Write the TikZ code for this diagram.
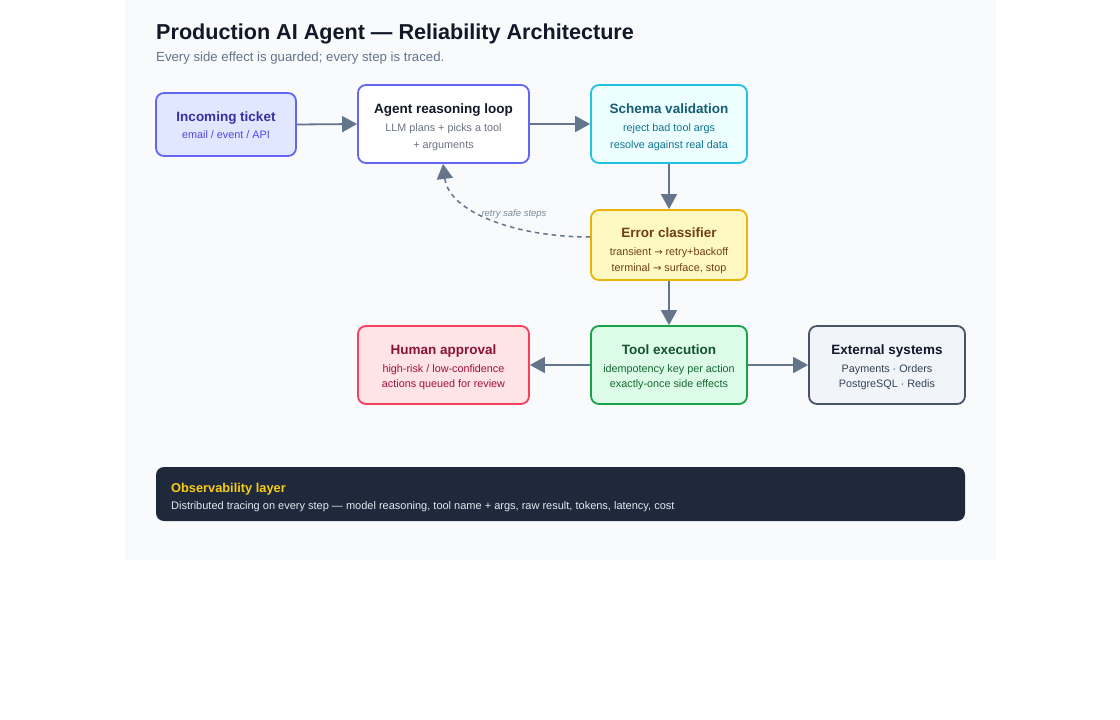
\documentclass[tikz,border=0pt]{standalone}
\usepackage{fontspec}
\setmainfont{Liberation Sans}
\newfontfamily\arrowfont{DejaVu Sans}
\usetikzlibrary{arrows.meta}
\definecolor{panel}{HTML}{F8FAFC}
\definecolor{arr}{HTML}{64748B}
\definecolor{inFill}{HTML}{E0E7FF}\definecolor{inDraw}{HTML}{6366F1}\definecolor{inTitle}{HTML}{3730A3}\definecolor{inSub}{HTML}{4F46E5}
\definecolor{agTitle}{HTML}{111827}\definecolor{agSub}{HTML}{6B7280}
\definecolor{cyFill}{HTML}{ECFEFF}\definecolor{cyDraw}{HTML}{22C3DC}\definecolor{cyTitle}{HTML}{155E75}\definecolor{cySub}{HTML}{0E7490}
\definecolor{yeFill}{HTML}{FEF9C3}\definecolor{yeDraw}{HTML}{EAB308}\definecolor{yeTitle}{HTML}{713F12}\definecolor{yeSub}{HTML}{713F12}
\definecolor{roFill}{HTML}{FFE4E6}\definecolor{roDraw}{HTML}{F43F5E}\definecolor{roTitle}{HTML}{881337}\definecolor{roSub}{HTML}{9F1239}
\definecolor{grFill}{HTML}{DCFCE7}\definecolor{grDraw}{HTML}{16A34A}\definecolor{grTitle}{HTML}{14532D}\definecolor{grSub}{HTML}{166534}
\definecolor{slFill}{HTML}{F1F5F9}\definecolor{slDraw}{HTML}{475569}\definecolor{slTitle}{HTML}{0F172A}\definecolor{slSub}{HTML}{334155}
\definecolor{dkFill}{HTML}{1E293B}\definecolor{dkTitle}{HTML}{FACC15}\definecolor{dkSub}{HTML}{E2E8F0}
\newcommand{\rarr}{{\arrowfont\fontsize{10}{13}\selectfont →}}
\begin{document}
\begin{tikzpicture}[x=1pt,y=-1pt,
  boxstyle/.style={draw, line width=1.8pt, rounded corners=8pt, inner sep=0pt},
  ttl/.style={anchor=base, inner sep=0pt, font=\fontsize{13.5}{16}\selectfont\bfseries},
  sub/.style={anchor=base, inner sep=0pt, font=\fontsize{10.8}{13}\selectfont},
  flow/.style={draw=arr, line width=1.8pt, -{Triangle[length=15pt,width=16pt]}},
  retry/.style={draw=arr, line width=1.5pt, dash pattern=on 4.5pt off 4pt, -{Triangle[length=15pt,width=16pt]}}
]
\useasboundingbox (0,0) rectangle (1120,720);
\fill[white] (0,0) rectangle (1120,720);
\fill[panel] (125,0) rectangle (996,560);

% title
\node[anchor=base west, inner sep=0pt, text=agTitle, font=\fontsize{21.6}{25}\selectfont\bfseries] (title) at (156,39) {Production AI Agent — Reliability Architecture};
\node[anchor=base west, inner sep=0pt, text=arr, font=\fontsize{13.2}{16}\selectfont] (subtitle) at (156,61) {Every side effect is guarded; every step is traced.};

% boxes
\node[boxstyle, draw=inDraw, fill=inFill, minimum width=140pt, minimum height=63pt] (ticket) at (226,124.5) {};
\node[ttl, text=inTitle] (ticket-t) at (226,121) {Incoming ticket};
\node[sub, text=inSub] (ticket-s) at (226,138) {email / event / API};

\node[boxstyle, draw=inDraw, fill=white, minimum width=171pt, minimum height=78pt] (agent) at (443.5,124) {};
\node[ttl, text=agTitle] (agent-t) at (443.5,113) {Agent reasoning loop};
\node[sub, text=agSub] (agent-s1) at (443.5,131.5) {LLM plans + picks a tool};
\node[sub, text=agSub] (agent-s2) at (443.5,148.5) {+ arguments};

\node[boxstyle, draw=cyDraw, fill=cyFill, minimum width=156pt, minimum height=78pt] (schema) at (669,124) {};
\node[ttl, text=cyTitle] (schema-t) at (669,113) {Schema validation};
\node[sub, text=cySub] (schema-s1) at (669,131.5) {reject bad tool args};
\node[sub, text=cySub] (schema-s2) at (669,148.5) {resolve against real data};

\node[boxstyle, draw=yeDraw, fill=yeFill, minimum width=156pt, minimum height=70pt] (error) at (669,245) {};
\node[ttl, text=yeTitle] (error-t) at (669,237) {Error classifier};
\node[sub, text=yeSub] (error-s1) at (669,255) {transient \rarr{} retry+backoff};
\node[sub, text=yeSub] (error-s2) at (669,271) {terminal \rarr{} surface, stop};

\node[boxstyle, draw=roDraw, fill=roFill, minimum width=171pt, minimum height=78pt] (human) at (443.5,365) {};
\node[ttl, text=roTitle] (human-t) at (443.5,354) {Human approval};
\node[sub, text=roSub] (human-s1) at (443.5,372) {high-risk / low-confidence};
\node[sub, text=roSub] (human-s2) at (443.5,387.5) {actions queued for review};

\node[boxstyle, draw=grDraw, fill=grFill, minimum width=156pt, minimum height=78pt] (tool) at (669,365) {};
\node[ttl, text=grTitle] (tool-t) at (669,354) {Tool execution};
\node[sub, text=grSub] (tool-s1) at (669,372) {idempotency key per action};
\node[sub, text=grSub] (tool-s2) at (669,387.5) {exactly-once side effects};

\node[boxstyle, draw=slDraw, fill=slFill, minimum width=156pt, minimum height=78pt] (ext) at (887,365) {};
\node[ttl, text=slTitle] (ext-t) at (887,354) {External systems};
\node[sub, text=slSub] (ext-s1) at (887,372) {Payments · Orders};
\node[sub, text=slSub] (ext-s2) at (887,387.5) {PostgreSQL · Redis};

\node[fill=dkFill, rounded corners=8pt, minimum width=809pt, minimum height=54pt, inner sep=0pt] (obs) at (560.5,494) {};
\node[anchor=base west, inner sep=0pt, text=dkTitle, font=\fontsize{12.8}{15}\selectfont\bfseries] (obs-t) at (171,492) {Observability layer};
\node[anchor=base west, inner sep=0pt, text=dkSub, font=\fontsize{11}{13}\selectfont] (obs-s) at (171,509) {Distributed tracing on every step — model reasoning, tool name + args, raw result, tokens, latency, cost};

% connectors
\draw[flow] (ticket.east) -- (agent.west);
\draw[flow] (agent.east) -- (schema.west);
\draw[flow] (schema.south) -- (error.north);
\draw[flow] (error.south) -- (tool.north);
\draw[flow] (tool.west) -- (human.east);
\draw[flow] (tool.east) -- (ext.west);
\coordinate (retryStart) at (error.west |- 0,237);
\coordinate (retryEnd) at (agent.south -| 443,0);
\draw[retry] (retryStart) .. controls (515,237) and (449,212) .. (retryEnd);
\node[inner sep=0pt, text=arr!85, font=\fontsize{9.5}{11}\selectfont\itshape] (retry-l) at (514,214.5) {retry safe steps};
\end{tikzpicture}
\end{document}
